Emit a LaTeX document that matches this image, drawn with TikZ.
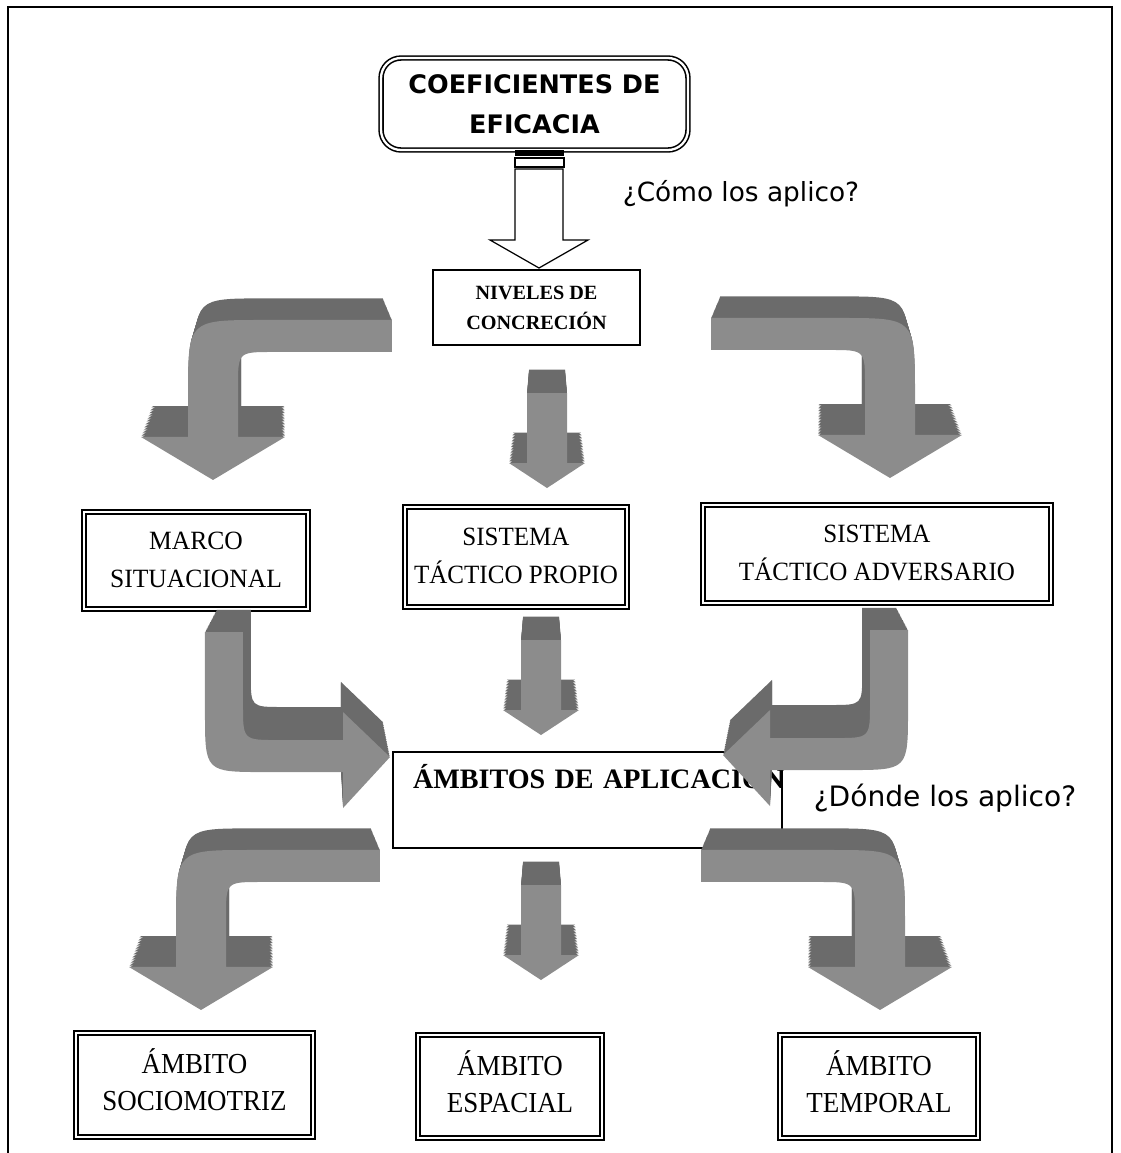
\documentclass[tikz,border=0pt]{standalone}
\usepackage{fontspec}
\usepackage{graphicx}
\setmainfont{Liberation Serif}
\newfontfamily\comicfont{DejaVu Sans}
\usetikzlibrary{positioning}

\definecolor{arrowdark}{gray}{0.42}
\definecolor{arrowlight}{gray}{0.55}

% text squeezed sideways, as in the scanned boxes
\newcommand{\squeeze}[2]{\scalebox{#1}[1]{\begin{tabular}{@{}c@{}}#2\end{tabular}}}

\tikzset{
  dbox/.style={draw, double, double distance=1.3pt, line width=0.9pt, align=center, inner sep=0pt},
  sbox/.style={draw, line width=0.7pt, align=center, inner sep=0pt},
  midtext/.style={font=\fontsize{15}{21.6}\selectfont},
  lowtext/.style={font=\fontsize{16.5}{21}\selectfont},
  asktext/.style={font=\comicfont\fontsize{15}{18}\selectfont},
  % grey 3d arrows, drawn from the back face to the front face
  straight arrow/.pic={
    \foreach \i [evaluate=\i as \k using 0.9+0.005*\i] in {0,...,20} {
      \ifnum\i<20 \def\facecol{arrowdark}\else\def\facecol{arrowlight}\fi
      \fill[\facecol, scale around={\k:(0,-330)}] (0,0) -- (38,-25) -- (20,-25) -- (20,-95) -- (-20,-95) -- (-20,-25) -- (-38,-25) -- cycle;
    }
  },
  bent arrow/.pic={
    \foreach \i [evaluate=\i as \k using 0.92+0.004*\i] in {0,...,20} {
      \ifnum\i<20 \def\facecol{arrowdark}\else\def\facecol{arrowlight}\fi
      \fill[\facecol, scale around={\k:(65,-430)}] (0,0) -- (72,-43) -- (25,-43) -- (25,-93) .. controls (25,-128) .. (60,-128) -- (179,-128) -- (179,-160) -- (50,-160) .. controls (-25,-160) .. (-25,-85) -- (-25,-43) -- (-72,-43) -- cycle;
    }
  },
  side arrow/.pic={
    \foreach \i [evaluate=\i as \k using 0.9+0.005*\i] in {0,...,20} {
      \ifnum\i<20 \def\facecol{arrowdark}\else\def\facecol{arrowlight}\fi
      \fill[\facecol, scale around={\k:(-69,-347)}] (0,0) -- (-47,-45) -- (-47,-17) -- (-112,-17) .. controls (-147,-17) .. (-147,-52) -- (-147,-125) -- (-185,-125) -- (-185,-45) .. controls (-185,15) .. (-125,15) -- (-47,15) -- (-47,51) -- cycle;
    }
  },
}

\begin{document}
\begin{tikzpicture}[x=0.02cm, y=-0.02cm]
\useasboundingbox (0,0) rectangle (1120,1153);

% page frame, open at the bottom
\draw[line width=0.9pt] (8,1153) -- (8,7) -- (1112,7) -- (1112,1153);

\node[dbox, rounded corners=0.4cm, minimum width=6.14cm, minimum height=1.84cm, font=\comicfont\bfseries\fontsize{14.5}{22.8}\selectfont] (coef) at (534.5,104) {COEFICIENTES DE\\EFICACIA};
\node[sbox, minimum width=4.14cm, minimum height=1.5cm, font=\bfseries\fontsize{11.5}{17}\selectfont] (niveles) at (536.5,307.5) {NIVELES DE\\CONCRECIÓN};

% white arrow
\fill (515,150) rectangle (564,156);
\draw[line width=0.7pt] (515,158) rectangle (564,167);
\draw[line width=0.7pt, fill=white] (515,169) -- (515,240) -- (490,240) -- (539,268) -- (588,240) -- (563,240) -- (563,169) -- cycle;
\node[asktext] (como) at (741,194) {¿Cómo los aplico?};

\node[dbox, midtext, minimum width=4.48cm, minimum height=1.94cm] (marco) at (196,560.5) {\squeeze{0.97}{MARCO\\SITUACIONAL}};
\node[dbox, midtext, minimum width=4.44cm, minimum height=2cm] (propio) at (516,557) {\squeeze{0.95}{SISTEMA\\TÁCTICO PROPIO}};
\node[dbox, midtext, minimum width=6.96cm, minimum height=1.96cm] (adversario) at (877,554) {\squeeze{0.95}{SISTEMA\\TÁCTICO ADVERSARIO}};

\node[draw, line width=0.7pt, minimum width=7.78cm, minimum height=1.92cm, inner xsep=0.4cm, inner ysep=0pt, text width=6.98cm, align=left, text height=0.56cm, text depth=1.04cm, font=\bfseries\fontsize{16}{19}\selectfont] (ambitos) at (587.5,800) {\mbox{ÁMBITOS DE APLICACIÓN}};
\node[asktext, font=\comicfont\fontsize{16}{19}\selectfont] (donde) at (945,798) {¿Dónde los aplico?};

\node[dbox, lowtext, minimum width=4.74cm, minimum height=2.08cm] (socio) at (194.5,1085) {\squeeze{0.93}{ÁMBITO\\SOCIOMOTRIZ}};
\node[dbox, lowtext, minimum width=3.68cm, minimum height=2.06cm] (espacial) at (510,1086.5) {\squeeze{0.93}{ÁMBITO\\ESPACIAL}};
\node[dbox, lowtext, minimum width=3.96cm, minimum height=2.06cm] (temporal) at (879,1086.5) {\squeeze{0.93}{ÁMBITO\\TEMPORAL}};

% grey arrows
\pic at (213,480) {bent arrow};
\pic at (547,488) {straight arrow};
\pic[xscale=-1] at (890,478) {bent arrow};

\pic at (390,757) {side arrow};
\pic at (541,735) {straight arrow};
\pic[xscale=-1] at (723,755) {side arrow};

\pic at (201,1010) {bent arrow};
\pic at (541,980) {straight arrow};
\pic[xscale=-1] at (880,1010) {bent arrow};

\end{tikzpicture}
\end{document}
